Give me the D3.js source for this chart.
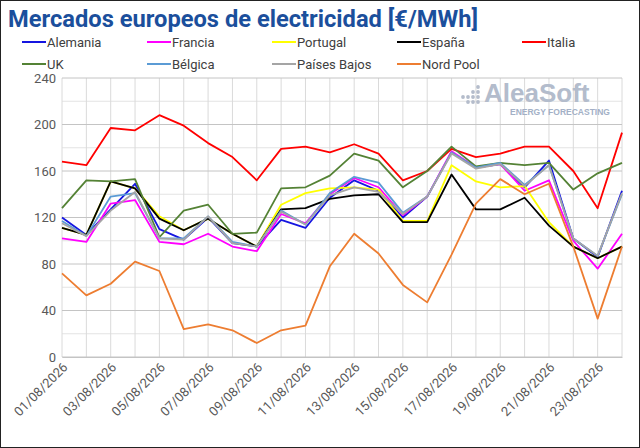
<!DOCTYPE html>
<html>
<head>
<meta charset="utf-8">
<script src="https://cdn.jsdelivr.net/npm/d3@7/dist/d3.min.js"></script>
<style>
  html, body { margin: 0; padding: 0; background: #fff; }
  svg { display: block; }
</style>
</head>
<body>
<svg id="chart" width="640" height="448"></svg>
<script>
const dates = ["01/08/2026","02/08/2026","03/08/2026","04/08/2026","05/08/2026","06/08/2026","07/08/2026","08/08/2026","09/08/2026","10/08/2026","11/08/2026","12/08/2026","13/08/2026","14/08/2026","15/08/2026","16/08/2026","17/08/2026","18/08/2026","19/08/2026","20/08/2026","21/08/2026","22/08/2026","23/08/2026","24/08/2026"];
const xTickLabels = ["01/08/2026","03/08/2026","05/08/2026","07/08/2026","09/08/2026","11/08/2026","13/08/2026","15/08/2026","17/08/2026","19/08/2026","21/08/2026","23/08/2026"];
const yTicks = [0, 40, 80, 120, 160, 200, 240];

const alemania    = [120, 105, 127, 149, 110, 101, 120, 98, 95, 118, 111, 137, 152, 143, 120, 138, 176, 163, 166, 146, 169, 102, 86, 143];
const francia     = [102, 99, 132, 135, 99, 97, 106, 95, 91, 123, 115, 140, 154, 146, 122, 138, 177, 163, 166, 143, 152, 100, 76, 106];
const portugal    = [111, 105, 151, 145, 121, 109, 119, 106, 95, 131, 141, 145, 146, 144, 117, 117, 165, 151, 146, 147, 116, 95, 85, 95];
const espana      = [111, 105, 151, 145, 119, 109, 119, 106, 95, 127, 128, 136, 139, 140, 116, 116, 157, 127, 127, 137, 113, 95, 85, 95];
const italia      = [168, 165, 197, 195, 208, 199, 184, 172, 152, 179, 181, 176, 183, 175, 152, 160, 179, 172, 175, 181, 181, 160, 128, 193];
const uk          = [128, 152, 151, 153, 103, 126, 131, 106, 107, 145, 146, 156, 175, 169, 146, 160, 181, 164, 167, 165, 167, 144, 158, 167];
const belgica     = [117, 104, 138, 141, 102, 102, 121, 99, 95, 126, 114, 141, 155, 150, 124, 138, 176, 163, 167, 148, 165, 102, 87, 140];
const paisesBajos = [115, 104, 126, 142, 102, 101, 121, 98, 95, 125, 114, 139, 146, 142, 123, 138, 175, 162, 166, 147, 165, 102, 87, 141];
const nordPool    = [72, 53, 63, 82, 74, 24, 28, 23, 12, 23, 27, 78, 106, 89, 62, 47, 88, 132, 153, 140, 149, 95, 33, 95];

const seriesNames = ["Alemania","Francia","Portugal","España","Italia","UK","Bélgica","Países Bajos","Nord Pool"];
const seriesValues = [alemania, francia, portugal, espana, italia, uk, belgica, paisesBajos, nordPool];
const seriesColors = ["#1515e0","#ff00ff","#ffff00","#000000","#ff0000","#548235","#5b9bd5","#a5a5a5","#ed7d31"];

const svg = d3.select("#chart");
const W = 640, H = 448;

svg.append("rect").attr("x",0.5).attr("y",0.5).attr("width",W-1).attr("height",H-1)
  .attr("fill","#fff").attr("stroke","#222").attr("stroke-width",1);

const x = d3.scalePoint().domain(dates).range([62, 622]).padding(0);
const y = d3.scaleLinear().domain([0, 240]).range([357, 78]);

// gridlines
const grid = svg.append("g");
grid.selectAll("line.minor").data(d3.range(20, 240, 40)).join("line")
  .attr("x1", 62).attr("x2", 622).attr("y1", d => y(d)).attr("y2", d => y(d))
  .attr("stroke", "#e3e3e3").attr("stroke-width", 1);
grid.selectAll("line.vert").data(dates).join("line")
  .attr("x1", d => x(d)).attr("x2", d => x(d)).attr("y1", y(240)).attr("y2", y(0))
  .attr("stroke", "#dadada").attr("stroke-width", 1);
grid.selectAll("line.major").data(yTicks).join("line")
  .attr("x1", 62).attr("x2", 622).attr("y1", d => y(d)).attr("y2", d => y(d))
  .attr("stroke", "#c4c4c4").attr("stroke-width", 1);

// y axis
const yAxis = svg.append("g").attr("transform", "translate(62,0)")
  .call(d3.axisLeft(y).tickValues(yTicks).tickSize(0).tickPadding(6));
yAxis.select(".domain").remove();
yAxis.selectAll("text").attr("font-family", "Roboto, 'Noto Sans', sans-serif")
  .attr("font-size", 13).attr("fill", "#595959");

// x axis
const xAxis = svg.append("g").attr("transform", "translate(0,357)")
  .call(d3.axisBottom(x).tickValues(xTickLabels).tickSize(0).tickPadding(0));
xAxis.select(".domain").attr("stroke", "#c4c4c4");
xAxis.selectAll("text")
  .attr("font-family", "Roboto, 'Noto Sans', sans-serif")
  .attr("font-size", 13).attr("fill", "#595959")
  .attr("text-anchor", "end")
  .attr("dy", null)
  .attr("transform", "translate(6,11) rotate(-45)");

// lines
const line = d3.line().x((d, i) => x(dates[i])).y(d => y(d));
svg.append("g").selectAll("path").data(seriesValues).join("path")
  .attr("d", d => line(d))
  .attr("fill", "none")
  .attr("stroke", (d, i) => seriesColors[i])
  .attr("stroke-width", 1.8)
  .attr("stroke-linejoin", "round");

// logo
const logo = svg.append("g");
const dots = [[460,97],[465,97],[470,97],[475,97],[470,92],[475,92],[475,87],[465,102],[470,102],[475,102]];
logo.selectAll("circle").data(dots).join("circle")
  .attr("cx", d => d[0] + 3).attr("cy", d => d[1]).attr("r", 1.9).attr("fill", "#b4bccb");
logo.append("text").attr("x", 484).attr("y", 102).text("AleaSoft")
  .attr("font-family", "'Liberation Sans', Arial, sans-serif").attr("font-weight", "bold")
  .attr("font-size", 26).attr("fill", "#b3bccc");
logo.append("text").attr("x", 510).attr("y", 115).text("ENERGY FORECASTING")
  .attr("font-family", "'Liberation Sans', Arial, sans-serif").attr("font-weight", "bold")
  .attr("font-size", 8.5).attr("fill", "#a3b0c6");

// title
svg.append("text").attr("x", 8).attr("y", 27)
  .text("Mercados europeos de electricidad [€/MWh]")
  .attr("font-family", "Roboto, 'Noto Sans', sans-serif").attr("font-weight", "bold")
  .attr("font-size", 23).attr("fill", "#1b4f9c")
  .attr("textLength", 470).attr("lengthAdjust", "spacingAndGlyphs");

// legend
const legend = svg.append("g");
const items = legend.selectAll("g").data(seriesNames).join("g")
  .attr("transform", (d, i) => `translate(${22 + (i % 5) * 125},${i < 5 ? 42 : 64})`);
items.append("line").attr("x1", 0).attr("x2", 24).attr("y1", 0).attr("y2", 0)
  .attr("stroke", (d, i) => seriesColors[i]).attr("stroke-width", 2);
items.append("text").attr("x", 25).attr("y", 5).text(d => d)
  .attr("font-family", "Roboto, 'Noto Sans', sans-serif")
  .attr("font-size", 13).attr("fill", "#404040");
</script>
</body>
</html>
